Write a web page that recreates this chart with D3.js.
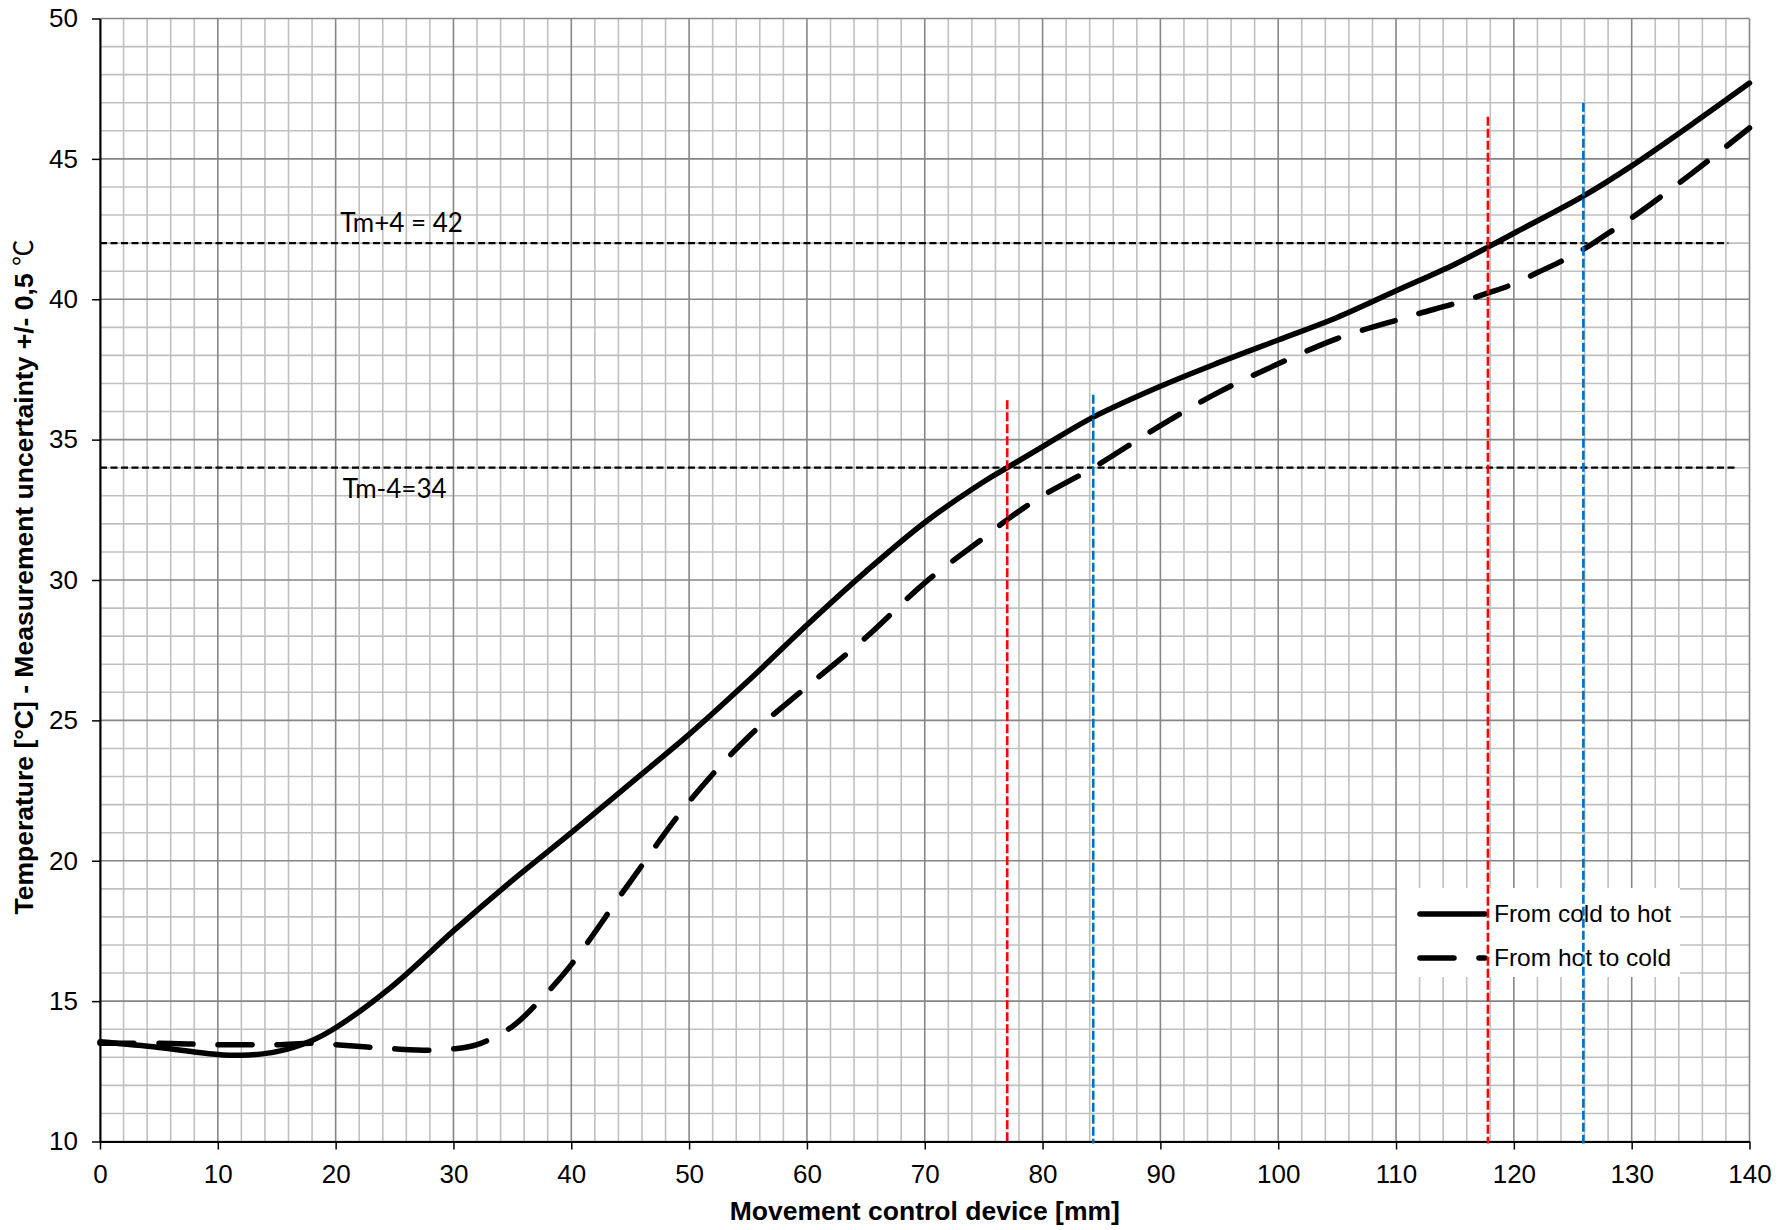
<!DOCTYPE html>
<html><head><meta charset="utf-8">
<script src="https://cdn.jsdelivr.net/npm/d3@7"></script>
<style>body{margin:0;background:#fff}</style>
</head><body>
<svg id="c" width="1780" height="1230"></svg>
<script>
// ---- data ----
const coldToHotX = [0,5,10,12,15,18,20,25,30,35,40,45,50,55,60,65,70,75,77,80,84.3,90,95,100,105,110,115,118,120,126,130,135,140];
const coldToHotY = [13.55,13.35,13.1,13.07,13.2,13.6,14.05,15.6,17.5,19.3,21.0,22.75,24.5,26.4,28.4,30.3,32.05,33.5,34.0,34.75,35.8,36.9,37.75,38.55,39.35,40.3,41.25,41.9,42.35,43.7,44.75,46.2,47.7];
const hotToColdX = [0,5,10,15,18,20,25,28,30,32,35,37.5,40,45,50,55,60,65,70,75,77,80,84.3,90,95,100,105,110,112,115,118,120,122,124,126,128,130,135,140];
const hotToColdY = [13.5,13.5,13.45,13.45,13.5,13.45,13.3,13.25,13.3,13.45,14.1,15.1,16.3,19.25,22.1,24.4,26.2,27.95,29.9,31.5,32.15,33.0,34.0,35.5,36.7,37.7,38.6,39.25,39.5,39.85,40.25,40.55,40.95,41.35,41.8,42.35,42.9,44.45,46.1];
const seriesNames = ["From cold to hot","From hot to cold"];
const xTicks = [0,10,20,30,40,50,60,70,80,90,100,110,120,130,140];
const yTicks = [10,15,20,25,30,35,40,45,50];
const refH = [{y:42, x1:0, x2:138.2, label:"Tm+4 = 42", lx:20.4, ly:42.4},
              {y:34, x1:0, x2:138.9, label:"Tm-4=34", lx:20.6, ly:32.92}];
const refV = [{x:77.0, top:36.4, color:"#ff0000"},
              {x:84.3, top:36.6, color:"#0070c0"},
              {x:117.8, top:46.5, color:"#ff0000"},
              {x:125.9, top:47.0, color:"#0070c0"}];

const svg = d3.select("#c");
const L=100, R=1749.5, T=18.5, B=1141.5;
const x = d3.scaleLinear().domain([0,140]).range([L,R]);
const y = d3.scaleLinear().domain([10,50]).range([B,T]);
svg.append("rect").attr("width",1780).attr("height",1230).attr("fill","#fff");

// grid
const g = svg.append("g");
const minorX = d3.range(0,141,2).filter(v=>v%10!==0);
const minorY = d3.range(10,51,1).filter(v=>v%5!==0);
g.selectAll(".mx").data(minorX).join("line").attr("x1",d=>x(d)).attr("x2",d=>x(d)).attr("y1",T).attr("y2",B).attr("stroke","#c0c0c0").attr("stroke-width",1.6);
g.selectAll(".my").data(minorY).join("line").attr("y1",d=>y(d)).attr("y2",d=>y(d)).attr("x1",L).attr("x2",R).attr("stroke","#c0c0c0").attr("stroke-width",1.6);
g.selectAll(".Mx").data(xTicks).join("line").attr("x1",d=>x(d)).attr("x2",d=>x(d)).attr("y1",T).attr("y2",B).attr("stroke","#868686").attr("stroke-width",1.6);
g.selectAll(".My").data(yTicks).join("line").attr("y1",d=>y(d)).attr("y2",d=>y(d)).attr("x1",L).attr("x2",R).attr("stroke","#868686").attr("stroke-width",1.6);

// axes
const ax = svg.append("g").attr("transform",`translate(0,${B})`)
  .call(d3.axisBottom(x).tickValues(xTicks).tickSize(8).tickPadding(11).tickSizeOuter(0));
const ay = svg.append("g").attr("transform",`translate(${L},0)`)
  .call(d3.axisLeft(y).tickValues(yTicks).tickSize(8).tickPadding(14).tickSizeOuter(0));
[ax,ay].forEach(a=>{
  a.selectAll("path").attr("stroke","#000").attr("stroke-width",2);
  a.selectAll("line").attr("stroke","#000").attr("stroke-width",1.5);
  a.selectAll("text").attr("font-family","Liberation Sans, Arial, sans-serif").attr("font-size",26).attr("fill","#000");
});
ax.selectAll("text").attr("dy","0.85em");

// titles
svg.append("text").attr("x",(L+R)/2).attr("y",1220).attr("text-anchor","middle")
  .attr("font-family","Liberation Sans, Arial, sans-serif").attr("font-weight","bold").attr("font-size",26.5)
  .text("Movement control device [mm]");
const yt = svg.append("text").attr("transform","translate(33,577) rotate(-90)").attr("text-anchor","middle")
  .attr("font-family","Liberation Sans, Arial, sans-serif").attr("font-weight","bold").attr("font-size",26.5);
yt.append("tspan").text("Temperature [°C] - Measurement uncertainty +/- 0,5 ");
yt.append("tspan").attr("font-family","Noto Sans CJK SC").attr("font-weight","normal").text("℃");

// reference horizontal lines
refH.forEach(r=>{
  svg.append("line").attr("x1",x(r.x1)).attr("x2",x(r.x2)).attr("y1",y(r.y)).attr("y2",y(r.y))
    .attr("stroke","#000").attr("stroke-width",2.2).attr("stroke-dasharray","7,3.5");
  svg.append("text").attr("x",x(r.lx)).attr("y",y(r.ly)).attr("font-family","Lato, 'Open Sans', sans-serif")
    .attr("font-size",26).attr("fill","#000").text(r.label);
});

// curves
const line = d3.line().x(d=>x(d[0])).y(d=>y(d[1])).curve(d3.curveCatmullRom.alpha(0.5));
const s1 = coldToHotX.map((v,i)=>[v,coldToHotY[i]]);
const s2 = hotToColdX.map((v,i)=>[v,hotToColdY[i]]);
svg.append("path").attr("d",line(s1)).attr("fill","none").attr("stroke","#000").attr("stroke-width",5.5).attr("stroke-linecap","round");
svg.append("path").attr("d",line(s2)).attr("fill","none").attr("stroke","#000").attr("stroke-width",5.5)
  .attr("stroke-linecap","round").attr("stroke-dasharray","34,25");

// legend
const lg = svg.append("g");
lg.append("rect").attr("x",1397).attr("y",888).attr("width",283).attr("height",89).attr("fill","#fff");
[0,1].forEach(i=>{
  const yy = 914 + i*44;
  lg.append("line").attr("x1",1420).attr("x2",1485).attr("y1",yy).attr("y2",yy)
    .attr("stroke","#000").attr("stroke-width",5.5).attr("stroke-linecap","round")
    .attr("stroke-dasharray", i===1 ? "34,25" : null);
  lg.append("text").attr("x",1494).attr("y",yy+8).attr("font-family","Liberation Sans, Arial, sans-serif")
    .attr("font-size",24.5).attr("fill","#000").text(seriesNames[i]);
});

// reference vertical lines
refV.forEach(r=>{
  svg.append("line").attr("x1",x(r.x)).attr("x2",x(r.x)).attr("y1",y(r.top)).attr("y2",B+2)
    .attr("stroke",r.color).attr("stroke-width",2.6).attr("stroke-dasharray","9,3");
});
</script>
</body></html>
